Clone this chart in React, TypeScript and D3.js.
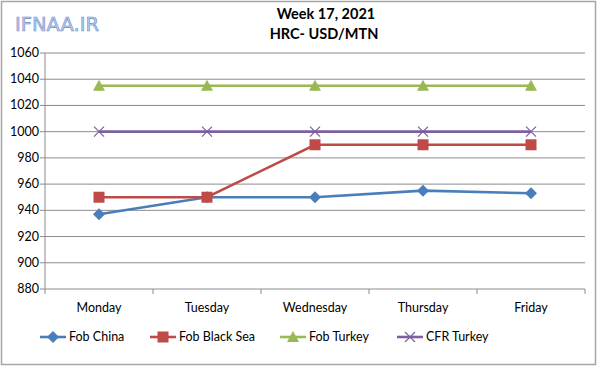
import React from "react"
import * as d3 from "d3"

const days = ["Monday", "Tuesday", "Wednesday", "Thursday", "Friday"]
const fobChina = [937, 950, 950, 955, 953]
const fobBlackSea = [950, 950, 990, 990, 990]
const fobTurkey = [1035, 1035, 1035, 1035, 1035]
const cfrTurkey = [1000, 1000, 1000, 1000, 1000]
const yTicks = [880, 900, 920, 940, 960, 980, 1000, 1020, 1040, 1060]

const series = [
    { name: "Fob China", values: fobChina, color: "#4a7ebb", marker: "diamond" },
    { name: "Fob Black Sea", values: fobBlackSea, color: "#be4b48", marker: "square" },
    { name: "Fob Turkey", values: fobTurkey, color: "#98b954", marker: "triangle" },
    { name: "CFR Turkey", values: cfrTurkey, color: "#7d60a0", marker: "x" },
]

const font = "Lato, 'Open Sans', sans-serif"

function Marker({ type, x, y, color }: { type: string; x: number; y: number; color: string }) {
    if (type === "diamond") {
        return <path d={`M${x},${y - 6}L${x + 6},${y}L${x},${y + 6}L${x - 6},${y}Z`} fill={color} />
    }
    if (type === "square") {
        return <rect x={x - 5.5} y={y - 5.5} width={11} height={11} fill={color} />
    }
    if (type === "triangle") {
        return <path d={`M${x},${y - 6}L${x + 6},${y + 5}L${x - 6},${y + 5}Z`} fill={color} />
    }
    return (
        <path
            d={`M${x - 5},${y - 5}L${x + 5},${y + 5}M${x - 5},${y + 5}L${x + 5},${y - 5}`}
            stroke={color}
            strokeWidth={1.2}
            fill="none"
        />
    )
}

export default function App() {
    const width = 600
    const height = 368
    const left = 45
    const right = 585
    const top = 53
    const bottom = 289

    const x = d3.scaleBand().domain(days).range([left, right])
    const y = d3.scaleLinear().domain([880, 1060]).range([bottom, top])
    const line = d3
        .line<number>()
        .x((_, i) => x(days[i])! + x.bandwidth() / 2)
        .y((d) => y(d))

    const legendX = [40, 150, 280, 397]

    return (
        <svg
            width={width}
            height={height}
            style={{ position: "absolute", left: 0, top: 0 }}
            fontFamily={font}
        >
            <rect x={0} y={0} width={width} height={height} fill="#fff" />
            <rect x={1.5} y={1.5} width={594} height={363} fill="none" stroke="#a6a6a6" strokeWidth={1.5} />

            <text x={15} y={31} fontSize={19.5} fill="#b9cdee" stroke="#6c8ec6" strokeWidth={0.6} fontFamily="'DejaVu Sans', sans-serif">
                IFNAA.IR
            </text>

            <text x={326} y={19} fontSize={14.5} fontWeight="bold" textAnchor="middle" fill="#000">
                Week 17, 2021
            </text>
            <text x={324} y={39} fontSize={14.5} fontWeight="bold" textAnchor="middle" fill="#000">
                HRC- USD/MTN
            </text>

            {yTicks.map((t) => (
                <g key={t}>
                    {t !== 880 && (
                        <line x1={left} x2={right} y1={y(t)} y2={y(t)} stroke="#8c8c8c" strokeWidth={1} />
                    )}
                    <line x1={left - 5} x2={left} y1={y(t)} y2={y(t)} stroke="#8c8c8c" />
                    <text x={39} y={y(t) + 4} fontSize={12.5} textAnchor="end" fill="#000">
                        {t}
                    </text>
                </g>
            ))}
            <line x1={left} x2={left} y1={top} y2={bottom} stroke="#8c8c8c" />
            <line x1={left} x2={right} y1={bottom} y2={bottom} stroke="#8c8c8c" />
            {days.map((d) => (
                <line key={d} x1={x(d)! + x.bandwidth()} x2={x(d)! + x.bandwidth()} y1={bottom} y2={bottom + 5} stroke="#8c8c8c" />
            ))}
            <line x1={left} x2={left} y1={bottom} y2={bottom + 5} stroke="#8c8c8c" />
            {days.map((d) => (
                <text key={d} x={x(d)! + x.bandwidth() / 2} y={312} fontSize={12.5} textAnchor="middle" fill="#000">
                    {d}
                </text>
            ))}

            {series.map((s) => (
                <g key={s.name}>
                    <path d={line(s.values)!} fill="none" stroke={s.color} strokeWidth={2.6} />
                    {s.values.map((v, i) => (
                        <Marker key={i} type={s.marker} x={x(days[i])! + x.bandwidth() / 2} y={y(v)} color={s.color} />
                    ))}
                </g>
            ))}

            {series.map((s, i) => (
                <g key={s.name}>
                    <line x1={legendX[i]} x2={legendX[i] + 26} y1={337} y2={337} stroke={s.color} strokeWidth={2.6} />
                    <Marker type={s.marker} x={legendX[i] + 13} y={337} color={s.color} />
                    <text x={legendX[i] + 29} y={341} fontSize={12.5} fill="#000">
                        {s.name}
                    </text>
                </g>
            ))}
        </svg>
    )
}
